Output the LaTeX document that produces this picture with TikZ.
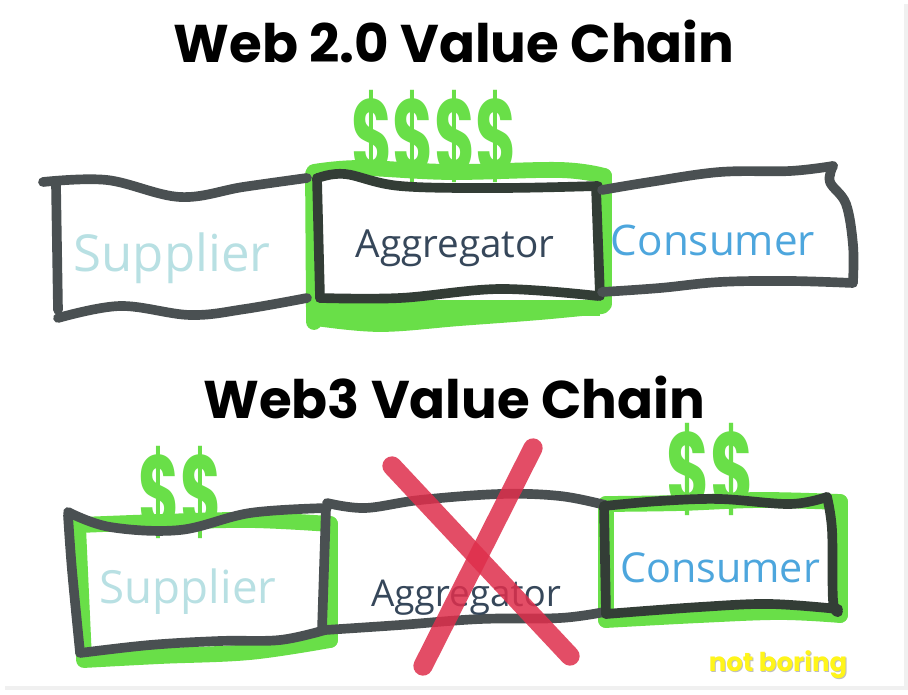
\documentclass[tikz,border=0pt]{standalone}
\usepackage{fontspec}
\setmainfont{Poppins}
\newfontfamily\handfont{Open Sans}
\usepackage{tikz}

\definecolor{boxgray}{HTML}{4A5052}
\definecolor{boxdark}{HTML}{333D36}
\definecolor{moneygreen}{HTML}{69DF48}
\definecolor{crossred}{HTML}{DF2F4C}
\definecolor{supcol}{HTML}{B8E0E3}
\definecolor{aggcol}{HTML}{36475A}
\definecolor{concol}{HTML}{4DA6DD}
\definecolor{brandyellow}{HTML}{FFF51A}

\begin{document}
\begin{tikzpicture}[x=0.02cm,y=-0.02cm,
  boxline/.style={draw=boxgray,line width=5.5pt,line cap=round,line join=round},
  darkline/.style={draw=boxdark,line width=5.5pt,line cap=round,line join=round},
  hilite/.style={draw=moneygreen,line width=9pt,line cap=round,line join=round},
  money/.style={text=moneygreen,font=\fontsize{46}{46}\selectfont\bfseries},
  title/.style={font=\fontsize{30.2}{31}\selectfont\bfseries}]

\useasboundingbox (0,0) rectangle (908,695);

% card and its shadow
\fill[black!6] (5,4) rectangle (908,690);
\fill[white] (2,0) rectangle (904,686);

% titles
\node[title] (t1) at (454,41) {Web 2.0 Value Chain};
\node[title] (t2) at (454,397) {Web3 Value Chain};

% ---- Web 2.0 row
\draw[hilite] plot[smooth,tension=0.6] coordinates {(314,172) (360,168) (450,172) (560,170) (604,176)};
\draw[hilite] (313,174) -- (314,322);
\draw[hilite] plot[smooth,tension=0.6] coordinates {(316,318) (380,324) (460,318) (540,312) (602,306)};
\draw[hilite] (604,176) -- (604,304);
\fill[moneygreen] (316,300) rectangle (600,316);

\node[money] (m1) at (434,136) {\scalebox{0.78}[1.3]{\$\$\$\$}};

\draw[boxline] plot[smooth,tension=0.6] coordinates {(43,182) (107,180) (180,197) (243,187) (307,178)};
\draw[boxline] (56,184) -- (58,310);
\draw[boxline] plot[smooth,tension=0.6] coordinates {(58,318) (120,306) (190,315) (245,309) (307,298)};
\draw[darkline] plot[smooth,tension=0.6] coordinates {(318,178) (345,174) (400,186) (500,188) (598,186)};
\draw[darkline] (317,178) -- (320,298);
\draw[darkline] plot[smooth,tension=0.6] coordinates {(320,298) (400,298) (500,289) (598,296)};
\draw[darkline] (596,187) -- (600,296);
\draw[boxline] plot[smooth,tension=0.6] coordinates {(602,190) (650,182) (720,172) (790,171) (833,166)};
\draw[boxline] plot[smooth,tension=0.6] coordinates {(833,166) (830,182) (846,204) (853,245) (853,282)};
\draw[boxline] plot[smooth,tension=0.6] coordinates {(602,292) (660,288) (720,282) (790,281) (853,283)};

\node[text=supcol,font=\handfont\fontsize{29}{29}\selectfont] (sup1) at (172,258) {Supplier};
\node[text=aggcol,font=\handfont\fontsize{22}{22}\selectfont] (agg1) at (455,248) {Aggregator};
\node[text=concol,font=\handfont\fontsize{24}{24}\selectfont] (con1) at (713,240) {Consumer};

% ---- Web3 row
\draw[hilite] plot[smooth,tension=0.6] coordinates {(80,525) (160,522) (250,520) (330,524)};
\draw[hilite] (78,526) -- (84,658);
\draw[hilite] plot[smooth,tension=0.6] coordinates {(84,660) (160,656) (250,652) (330,640)};
\draw[hilite] (330,524) -- (330,640);
\draw[hilite] plot[smooth,tension=0.6] coordinates {(606,504) (680,503) (760,500) (840,502)};
\draw[hilite] (606,504) -- (606,620);
\draw[hilite] plot[smooth,tension=0.6] coordinates {(606,620) (700,615) (780,612) (840,615)};
\draw[hilite] (840,502) -- (840,615);

\node[money] (m2) at (180,492) {\scalebox{0.78}[1.3]{\$\$}};
\node[money] (m3) at (710,469) {\scalebox{0.82}[1.3]{\$\$}};

\draw[boxline] plot[smooth,tension=0.6] coordinates {(68,512) (110,527) (180,530) (250,513) (327,508)};
\draw[boxline] plot[smooth,tension=0.6] coordinates {(68,515) (72,570) (80,652)};
\draw[boxline] plot[smooth,tension=0.6] coordinates {(80,653) (150,645) (220,641) (280,640) (325,630)};
\draw[boxline] (326,508) -- (322,630);
\draw[boxline] plot[smooth,tension=0.6] coordinates {(327,503) (365,508) (420,500) (500,494) (560,496) (605,505)};
\draw[boxline] plot[smooth,tension=0.6] coordinates {(325,630) (400,625) (480,619) (560,618) (604,612)};
\draw[darkline] plot[smooth,tension=0.6] coordinates {(604,506) (660,501) (720,499) (790,504) (827,497)};
\draw[darkline] (604,506) -- (606,614);
\draw[darkline] plot[smooth,tension=0.6] coordinates {(827,497) (832,530) (833,600) (838,612)};
\draw[darkline] plot[smooth,tension=0.6] coordinates {(606,614) (700,607) (770,604) (838,609)};

\node[text=supcol,font=\handfont\fontsize{26}{26}\selectfont] (sup2) at (188,592) {Supplier};
\node[text=aggcol,font=\handfont\fontsize{21}{21}\selectfont] (agg2) at (466,598) {Aggregator};
\node[text=concol,font=\handfont\fontsize{23.5}{24}\selectfont] (con2) at (720,568) {Consumer};

% the cross over the aggregator
\draw[draw=crossred,opacity=0.85,line width=11pt,line cap=round] (392,466) -- (570,656);
\draw[draw=crossred,opacity=0.85,line width=11pt,line cap=round] (533,448) -- (423,666);

% brand mark
\node[text=black!25,font=\fontsize{14.8}{15}\selectfont\bfseries] (brandb) at (779,666) {not boring};
\node[text=brandyellow,font=\fontsize{14.8}{15}\selectfont\bfseries] (brand) at (778,665) {not boring};

\end{tikzpicture}
\end{document}
